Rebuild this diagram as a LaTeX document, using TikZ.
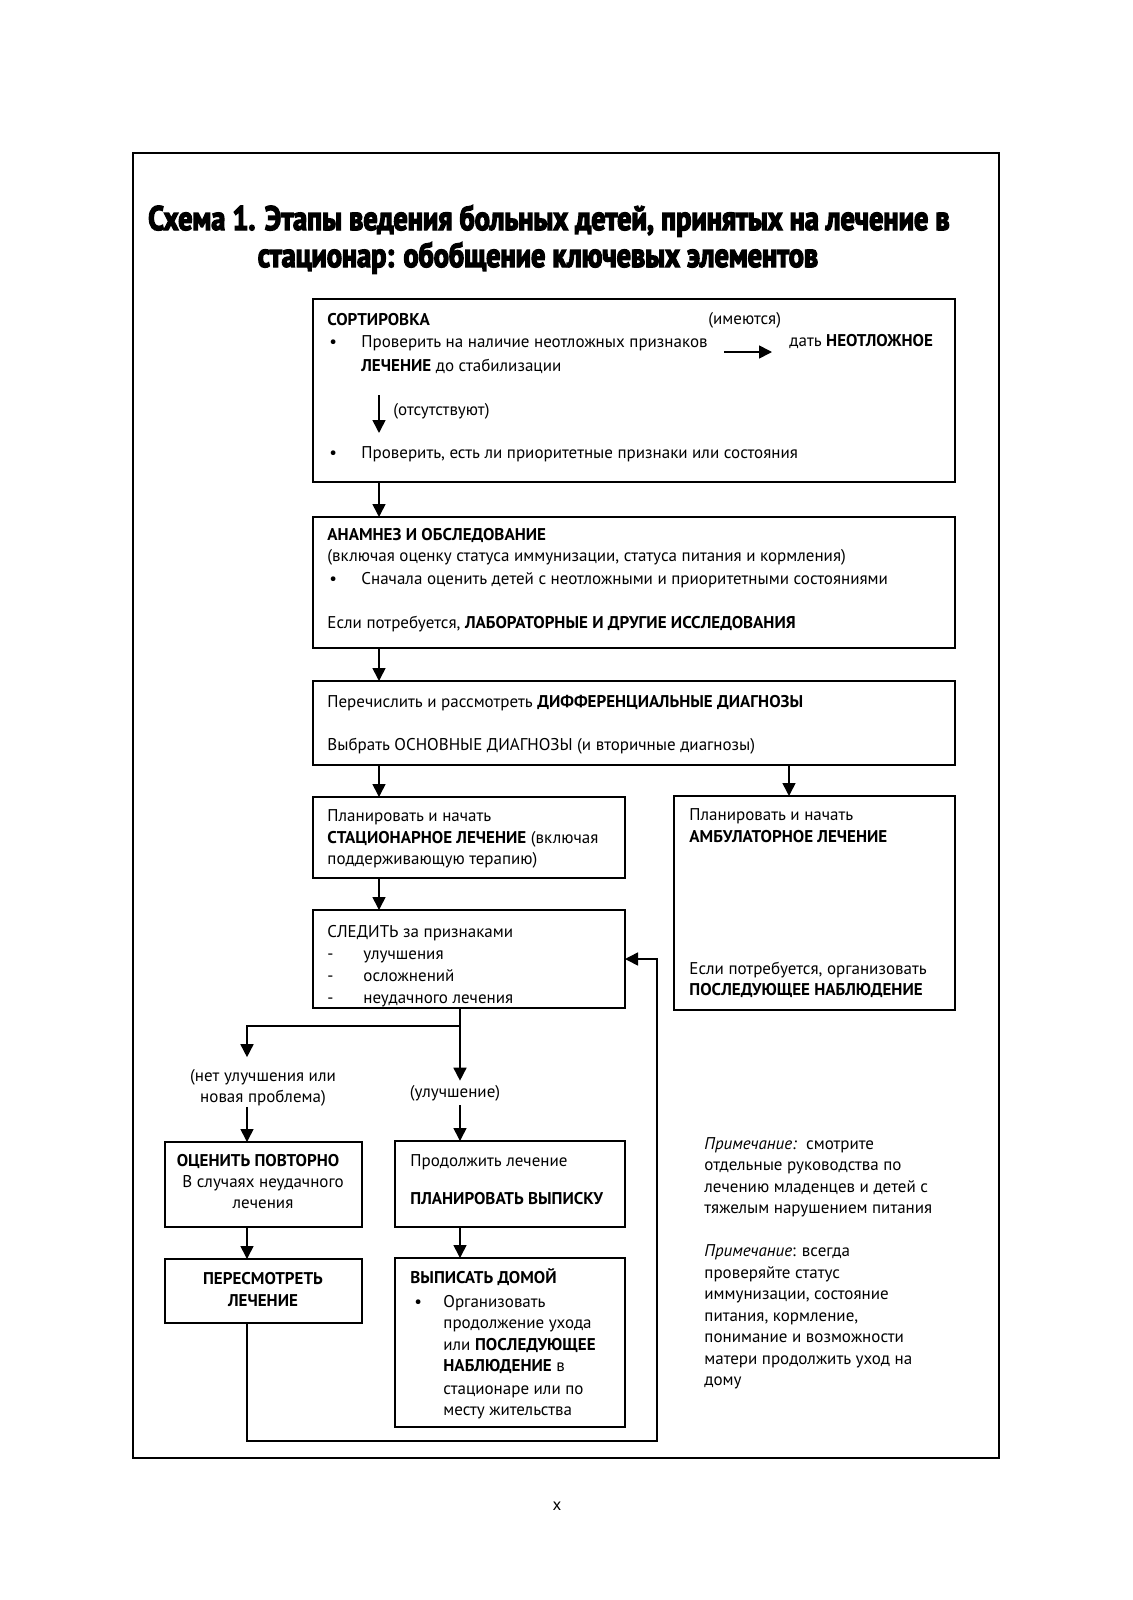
\documentclass[tikz,border=0pt]{standalone}
\usepackage{fontspec}
\setmainfont{PT Sans}
\newfontfamily\titlefont[FakeStretch=0.83,FakeBold=4]{PT Sans}
\usetikzlibrary{arrows.meta}
\newcommand{\fsz}{\fontsize{8.5pt}{10.5pt}\selectfont}
\begin{document}
\begin{tikzpicture}[x=0.5pt,y=-0.5pt,
  box/.style={draw,line width=1pt,anchor=north west,inner sep=0pt,outer sep=0pt},
  tx/.style={anchor=base west,inner sep=0pt,font=\fsz},
  tc/.style={anchor=base,inner sep=0pt,font=\fsz},
  lab/.style={inner sep=0pt,font=\fsz,align=center},
  ttl/.style={anchor=base,inner sep=0pt,font=\titlefont\bfseries\fontsize{17pt}{19pt}\selectfont},
  arr/.style={line width=0.8pt,-{Triangle[width=6.5pt,length=6.5pt]}},
  ln/.style={line width=0.8pt}]
\useasboundingbox (0,0) rectangle (1133,1600);
\fill[white] (0,0) rectangle (1133,1600);
% frame
\node[box,line width=0.8pt,minimum width=433pt,minimum height=652.5pt] (frame) at (133,153) {};
% title
\node[ttl] (title1) at (549,230) {Схема 1. Этапы ведения больных детей, принятых на лечение в};
\node[ttl] (title2) at (538,267) {стационар: обобщение ключевых элементов};
% boxes
\node[box,minimum width=321pt,minimum height=91.5pt] (b1) at (313,299) {};
\node[box,minimum width=321pt,minimum height=65.5pt] (b2) at (313,517) {};
\node[box,minimum width=321pt,minimum height=42pt] (b3) at (313,681) {};
\node[box,minimum width=156pt,minimum height=40.5pt] (b4) at (313,797) {};
\node[box,minimum width=140.5pt,minimum height=107pt] (b5) at (674,796) {};
\node[box,minimum width=156pt,minimum height=49pt] (b6) at (313,910) {};
\node[box,minimum width=98.5pt,minimum height=42.5pt] (b7) at (165,1142) {};
\node[box,minimum width=115pt,minimum height=43pt] (b8) at (395,1141) {};
\node[box,minimum width=98.5pt,minimum height=32pt] (b9) at (165,1259) {};
\node[box,minimum width=115pt,minimum height=84.5pt] (b10) at (395,1258) {};
% box 1 text
\node[tx] (t1a) at (327,325) {\textbf{СОРТИРОВКА}};
\node[tx] (t1b) at (708,324) {(имеются)};
\node[tx] (t1c) at (329,347) {•};
\node[tx] (t1d) at (361,347) {Проверить на наличие неотложных признаков};
\node[tx] (t1e) at (789,346) {дать \textbf{НЕОТЛОЖНОЕ}};
\node[tx] (t1f) at (361,371) {\textbf{ЛЕЧЕНИЕ} до стабилизации};
\node[tx] (t1g) at (393,415) {(отсутствуют)};
\node[tx] (t1h) at (329,458) {•};
\node[tx] (t1i) at (361,458) {Проверить, есть ли приоритетные признаки или состояния};
\coordinate (h1) at (724,352);
\coordinate (h2) at (772,352);
\coordinate (v1) at (379,395);
\coordinate (v2) at (379,433);
\draw[arr] (h1) -- (h2);
\draw[arr] (v1) -- (v2);
% box 2 text
\node[tx] (t2a) at (327,540) {\textbf{АНАМНЕЗ И ОБСЛЕДОВАНИЕ}};
\node[tx] (t2b) at (327,561) {(включая оценку статуса иммунизации, статуса питания и кормления)};
\node[tx] (t2c) at (329,584) {•};
\node[tx] (t2d) at (361,584) {Сначала оценить детей с неотложными и приоритетными состояниями};
\node[tx] (t2e) at (327,628) {Если потребуется, \textbf{ЛАБОРАТОРНЫЕ И ДРУГИЕ ИССЛЕДОВАНИЯ}};
% box 3 text
\node[tx] (t3a) at (327,707) {Перечислить и рассмотреть \textbf{ДИФФЕРЕНЦИАЛЬНЫЕ ДИАГНОЗЫ}};
\node[tx] (t3b) at (327,750) {Выбрать ОСНОВНЫЕ ДИАГНОЗЫ (и вторичные диагнозы)};
% box 4 text
\node[tx] (t4a) at (327,821) {Планировать и начать};
\node[tx] (t4b) at (327,843) {\textbf{СТАЦИОНАРНОЕ ЛЕЧЕНИЕ} (включая};
\node[tx] (t4c) at (327,864) {поддерживающую терапию)};
% box 5 text
\node[tx] (t5a) at (689,820) {Планировать и начать};
\node[tx] (t5b) at (689,842) {\textbf{АМБУЛАТОРНОЕ ЛЕЧЕНИЕ}};
\node[tx] (t5c) at (689,974) {Если потребуется, организовать};
\node[tx] (t5d) at (689,995) {\textbf{ПОСЛЕДУЮЩЕЕ НАБЛЮДЕНИЕ}};
% box 6 text
\node[tx] (t6a) at (327,937) {СЛЕДИТЬ за признаками};
\node[tx] (t6b) at (327,959) {-};
\node[tx] (t6c) at (363,959) {улучшения};
\node[tx] (t6d) at (327,981) {-};
\node[tx] (t6e) at (363,981) {осложнений};
\node[tx] (t6f) at (327,1003) {-};
\node[tx] (t6g) at (363,1003) {неудачного лечения};
% labels
\node[lab] (l1) at (263,1088) {(нет улучшения или\\новая проблема)};
\node[lab] (l2) at (455,1093) {(улучшение)};
% box 7 text
\node[tc] (t7a) at (258,1166) {\textbf{ОЦЕНИТЬ ПОВТОРНО}};
\node[tc] (t7b) at (263,1187) {В случаях неудачного};
\node[tc] (t7c) at (263,1208) {лечения};
% box 8 text
\node[tx] (t8a) at (410,1166) {Продолжить лечение};
\node[tx] (t8b) at (410,1204) {\textbf{ПЛАНИРОВАТЬ ВЫПИСКУ}};
% box 9 text
\node[tc] (t9a) at (263,1284) {\textbf{ПЕРЕСМОТРЕТЬ}};
\node[tc] (t9b) at (263,1306) {\textbf{ЛЕЧЕНИЕ}};
% box 10 text
\node[tx] (t10a) at (410,1283) {\textbf{ВЫПИСАТЬ ДОМОЙ}};
\node[tx] (t10b) at (414,1307) {•};
\node[tx] (t10c) at (443,1307) {Организовать};
\node[tx] (t10d) at (443,1328) {продолжение ухода};
\node[tx] (t10e) at (443,1350) {или \textbf{ПОСЛЕДУЮЩЕЕ}};
\node[tx] (t10f) at (443,1371) {\textbf{НАБЛЮДЕНИЕ} в};
\node[tx] (t10g) at (443,1394) {стационаре или по};
\node[tx] (t10h) at (443,1415) {месту жительства};
% notes
\node[tx] (n1) at (704,1149) {\textit{Примечание:}\ \ смотрите};
\node[tx] (n2) at (704,1170) {отдельные руководства по};
\node[tx] (n3) at (704,1192) {лечению младенцев и детей с};
\node[tx] (n4) at (704,1213) {тяжелым нарушением питания};
\node[tx] (n5) at (704,1256) {\textit{Примечание}: всегда};
\node[tx] (n6) at (704,1278) {проверяйте статус};
\node[tx] (n7) at (704,1299) {иммунизации, состояние};
\node[tx] (n8) at (704,1321) {питания, кормление,};
\node[tx] (n9) at (704,1342) {понимание и возможности};
\node[tx] (n10) at (704,1364) {матери продолжить уход на};
\node[tx] (n11) at (704,1385) {дому};
% footer
\node[tc] (foot) at (557,1510) {x};
% connectors
\coordinate (xA) at (379,0);
\coordinate (xB) at (789,0);
\coordinate (xC) at (460,0);
\coordinate (xD) at (247,0);
\coordinate (br) at (460,1026);
\coordinate (lp) at (657,1441);
\draw[arr] (b1.south -| xA) -- (b2.north -| xA);
\draw[arr] (b2.south -| xA) -- (b3.north -| xA);
\draw[arr] (b3.south -| xA) -- (b4.north -| xA);
\draw[arr] (b3.south -| xB) -- (b5.north -| xB);
\draw[arr] (b4.south -| xA) -- (b6.north -| xA);
\draw[ln] (b6.south -| xC) -- (br);
\draw[arr,shorten >=6pt] (br) -| (l1.north -| xD);
\draw[arr,shorten >=2pt] (br) -- (l2.north -| xC);
\draw[arr] (l1.south -| xD) -- (b7.north -| xD);
\draw[arr,shorten <=2pt] (l2.south -| xC) -- (b8.north -| xC);
\draw[arr] (b7.south -| xD) -- (b9.north -| xD);
\draw[arr] (b8.south -| xC) -- (b10.north -| xC);
\draw[arr] (b9.south -| xD) |- (lp) |- (b6.east);
\end{tikzpicture}
\end{document}
